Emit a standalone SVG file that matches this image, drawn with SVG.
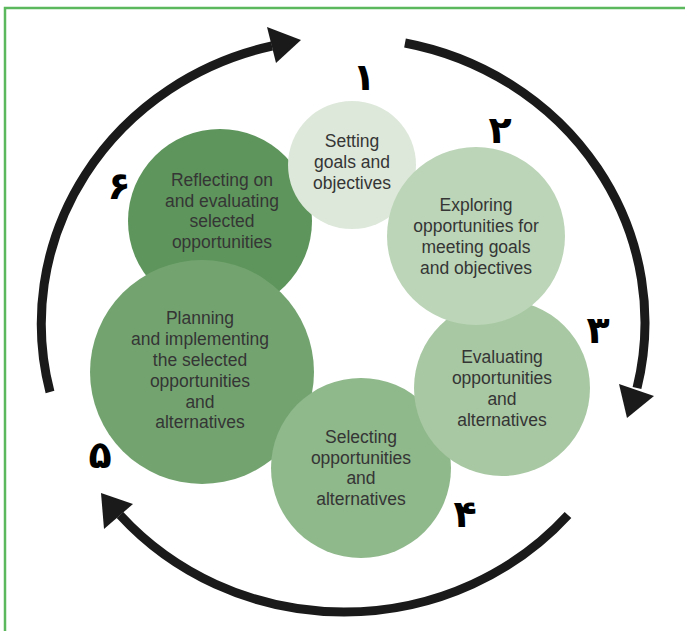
<svg xmlns="http://www.w3.org/2000/svg" width="685" height="631" viewBox="0 0 685 631">
<style>
.lbl{font-family:"Liberation Sans",Arial,sans-serif;font-size:17.5px;fill:#353535;text-anchor:middle}
.num{font-family:"DejaVu Sans",sans-serif;font-weight:bold;font-size:38px;fill:#000;text-anchor:middle}
.ring{fill:none;stroke:#1a1a1a;stroke-width:9}
.head{fill:#1a1a1a}
</style>
<rect width="685" height="631" fill="#fff"/>
<path d="M5 631 V8 H685" fill="none" stroke="#5cb85c" stroke-width="2.5"/>
<g id="connectors">
<path class="ring" d="M50 392 A298 285 0 0 1 272 46"/>
<polygon class="head" points="301,40 267,27 276,63"/>
<path class="ring" d="M405 43 A298 285 0 0 1 637 388"/>
<polygon class="head" points="627,418 619,384 654,396"/>
<path class="ring" d="M568 515 A298 285 0 0 1 120 515"/>
<polygon class="head" points="101,493 104,529 133,504"/>
</g>
<g id="node6"><circle cx="220" cy="221" r="92" fill="#5e955c"/>
<text class="lbl"><tspan x="222" y="186">Reflecting on</tspan><tspan x="222" y="207">and evaluating</tspan><tspan x="222" y="227">selected</tspan><tspan x="222" y="248">opportunities</tspan></text></g>
<g id="node5"><circle cx="202" cy="372" r="112" fill="#73a470"/>
<text class="lbl"><tspan x="200" y="324">Planning</tspan><tspan x="200" y="345">and implementing</tspan><tspan x="200" y="366">the selected</tspan><tspan x="200" y="387">opportunities</tspan><tspan x="200" y="408">and</tspan><tspan x="200" y="428">alternatives</tspan></text></g>
<g id="node4"><circle cx="361" cy="468" r="90" fill="#8fb88b"/>
<text class="lbl"><tspan x="361" y="443">Selecting</tspan><tspan x="361" y="464">opportunities</tspan><tspan x="361" y="484">and</tspan><tspan x="361" y="505">alternatives</tspan></text></g>
<g id="node3"><circle cx="502" cy="388" r="88" fill="#a8c8a3"/>
<text class="lbl"><tspan x="502" y="363">Evaluating</tspan><tspan x="502" y="384">opportunities</tspan><tspan x="502" y="405">and</tspan><tspan x="502" y="426">alternatives</tspan></text></g>
<g id="node1"><circle cx="352" cy="165" r="64" fill="#dde8da"/>
<text class="lbl"><tspan x="352" y="147">Setting</tspan><tspan x="352" y="168">goals and</tspan><tspan x="352" y="189">objectives</tspan></text></g>
<g id="node2"><circle cx="476" cy="236" r="89" fill="#bcd5b8"/>
<text class="lbl"><tspan x="476" y="211">Exploring</tspan><tspan x="476" y="232">opportunities for</tspan><tspan x="476" y="253">meeting goals</tspan><tspan x="476" y="274">and objectives</tspan></text></g>
<g id="numbers">
<text class="num" x="364" y="90">۱</text>
<text class="num" x="500" y="143">۲</text>
<text class="num" x="598" y="343">۳</text>
<text class="num" x="465" y="527">۴</text>
<text class="num" x="100" y="468">۵</text>
<text class="num" x="119" y="199">۶</text>
</g>
</svg>
